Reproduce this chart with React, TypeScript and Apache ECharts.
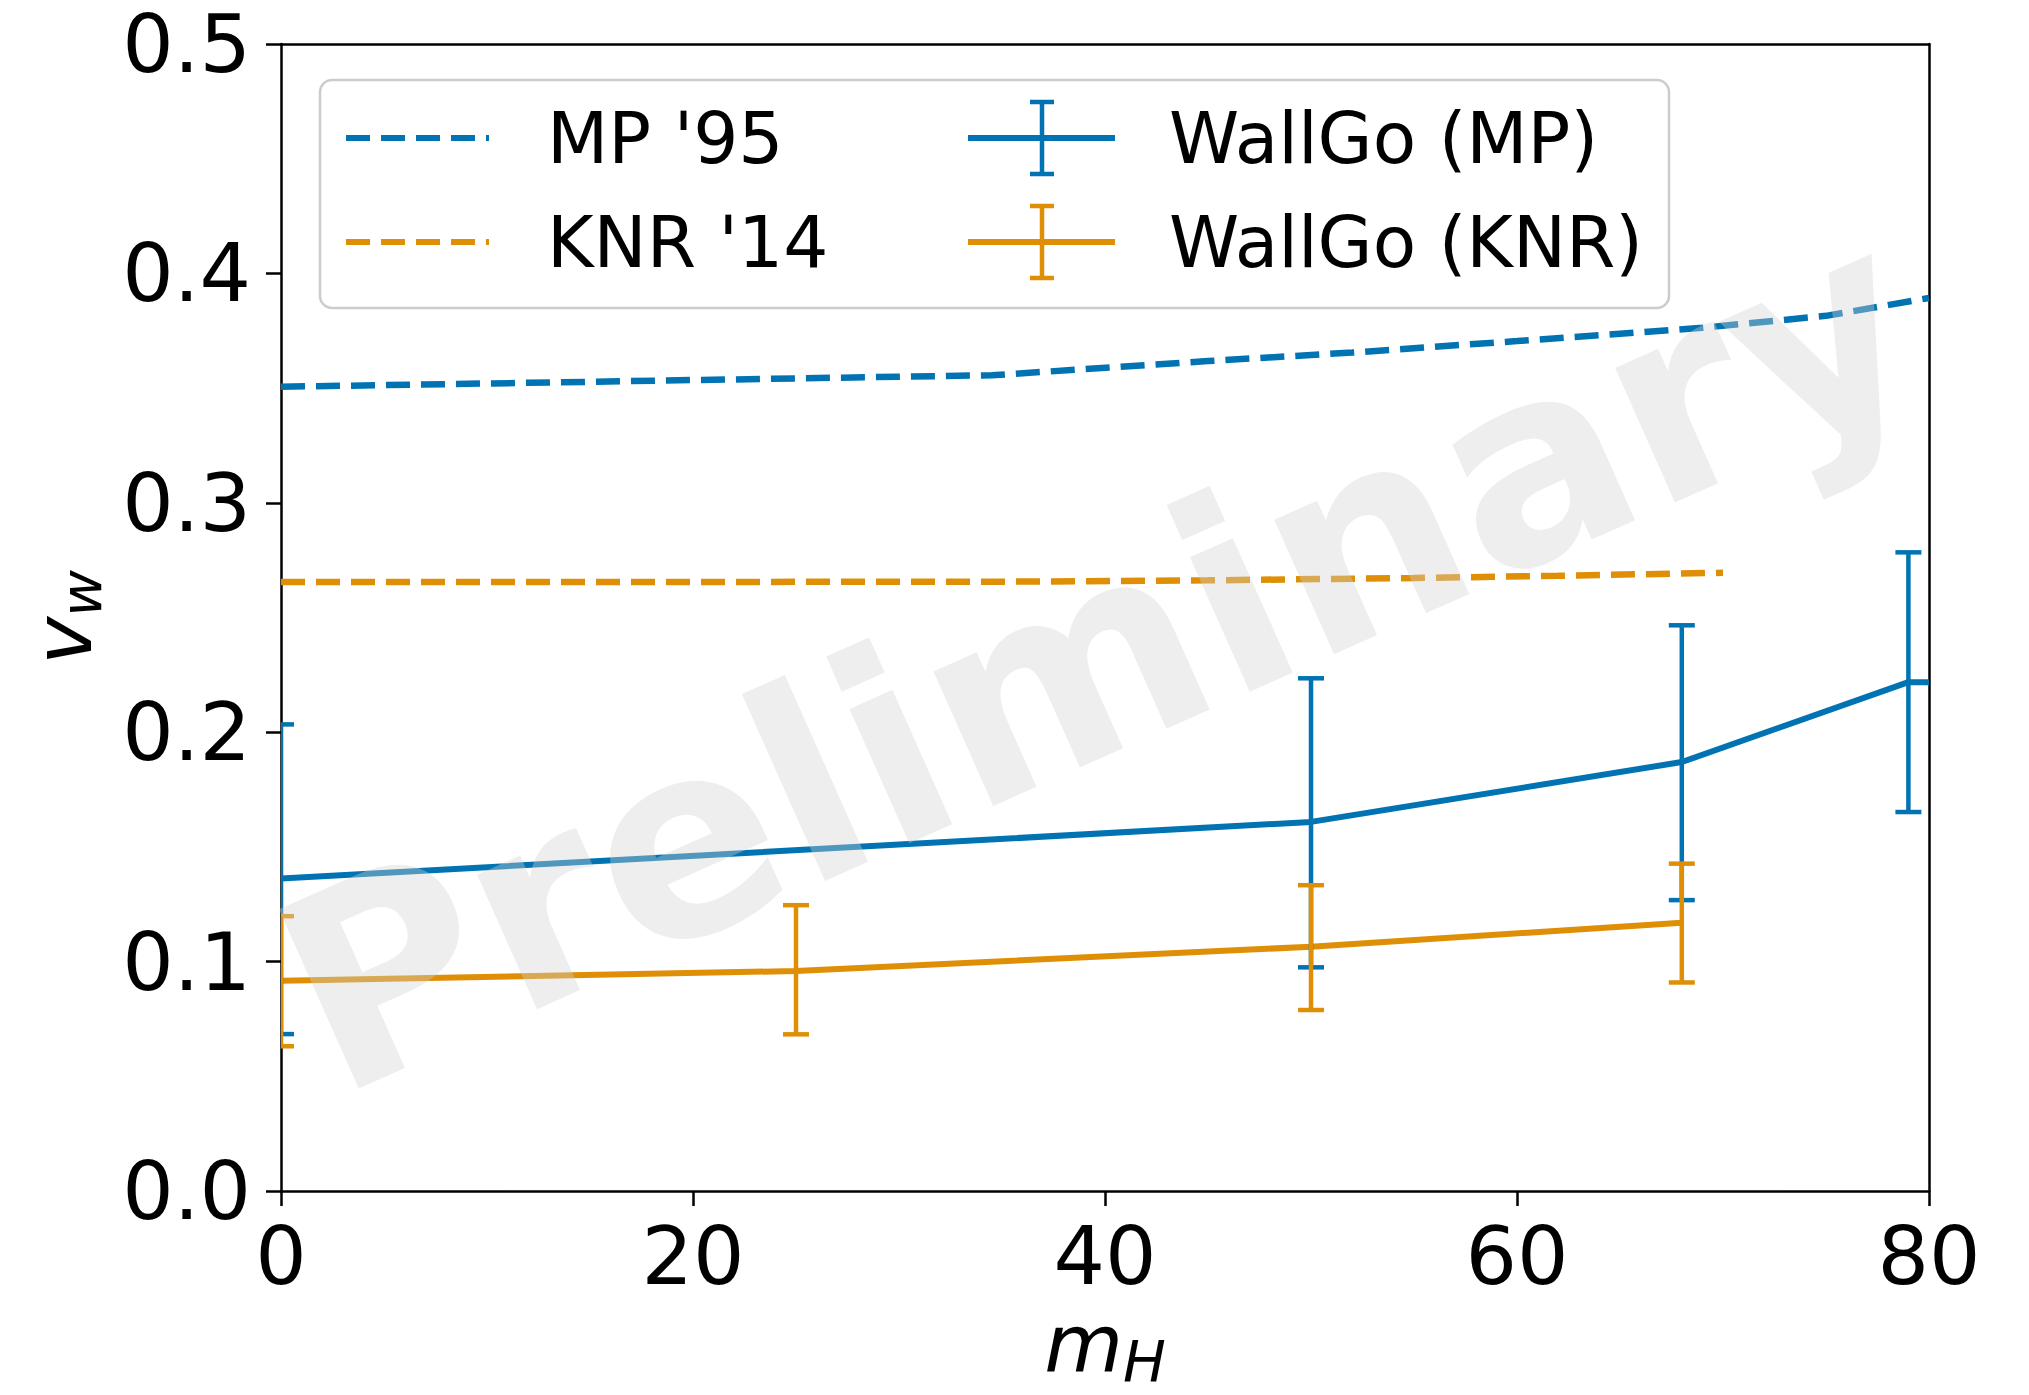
import React, { useEffect, useRef } from "react";
import * as echarts from "echarts";

const BLUE = "#0173b2";
const ORANGE = "#de8f05";
const FONT = "DejaVu Sans";

// MP '95 (dashed)
const mp95X = [0, 10, 20, 34.5, 45, 52, 60, 69, 75, 80];
const mp95Y = [0.3506, 0.352, 0.3535, 0.3556, 0.3618, 0.3655, 0.3705, 0.3763, 0.3815, 0.3893];
// KNR '14 (dashed)
const knr14X = [0, 20, 35, 45, 55, 62, 70];
const knr14Y = [0.2655, 0.2655, 0.2656, 0.2662, 0.2672, 0.2682, 0.2695];

// WallGo (MP)
const wallgoMpX = [0, 50, 68, 79, 80];
const wallgoMpY = [0.1362, 0.1609, 0.187, 0.2218, 0.2218];
const wallgoMpErrX = [0, 50, 68, 79];
const wallgoMpErrY = [0.1362, 0.1609, 0.187, 0.2218];
const wallgoMpLo = [0.0684, 0.0975, 0.1268, 0.1652];
const wallgoMpHi = [0.2034, 0.2235, 0.2466, 0.2784];

// WallGo (KNR)
const wallgoKnrX = [0, 25, 50, 68];
const wallgoKnrY = [0.0916, 0.0959, 0.1065, 0.1169];
const wallgoKnrLo = [0.0631, 0.0683, 0.0789, 0.0909];
const wallgoKnrHi = [0.1198, 0.1246, 0.1333, 0.1427];

const xTicks = { min: 0, max: 80, interval: 20 };
const yTicks = { min: 0, max: 0.5, interval: 0.1 };

const legendNames = ["MP '95", "KNR '14", "WallGo (MP)", "WallGo (KNR)"];
const watermarkText = "Preliminary";

function zip(xs: number[], ys: number[]) {
  return xs.map((x, i) => [x, ys[i]]);
}

function errorSeries(name: string, color: string, xs: number[], ys: number[], lo: number[], hi: number[]) {
  return {
    name: name + " err",
    type: "custom",
    clip: true,
    z: 4,
    data: xs.map((x, i) => [x, ys[i], lo[i], hi[i]]),
    renderItem: (params: any, api: any) => {
      const x = api.value(0);
      const pLo = api.coord([x, api.value(2)]);
      const pHi = api.coord([x, api.value(3)]);
      const cap = 13;
      const style = { stroke: color, lineWidth: 4.5, fill: "none" };
      return {
        type: "group",
        children: [
          { type: "line", shape: { x1: pLo[0], y1: pLo[1], x2: pHi[0], y2: pHi[1] }, style },
          { type: "line", shape: { x1: pLo[0] - cap, y1: pLo[1], x2: pLo[0] + cap, y2: pLo[1] }, style },
          { type: "line", shape: { x1: pHi[0] - cap, y1: pHi[1], x2: pHi[0] + cap, y2: pHi[1] }, style },
        ],
      };
    },
  };
}

function legendGraphic() {
  const textStyle = (t: string, x: number, y: number) => ({
    type: "text",
    x,
    y,
    style: { text: t, font: `71px "${FONT}"`, fill: "#000", align: "left", verticalAlign: "middle" },
  });
  const dashed = (color: string, y: number) => ({
    type: "line",
    shape: { x1: 346, y1: y, x2: 489, y2: y },
    style: { stroke: color, lineWidth: 6, lineDash: [24, 11] },
  });
  const errHandle = (color: string, y: number) => {
    const cx = 1042;
    const st = { stroke: color, lineWidth: 4.5 };
    return [
      { type: "line", shape: { x1: 968, y1: y, x2: 1115, y2: y }, style: { stroke: color, lineWidth: 6 } },
      { type: "line", shape: { x1: cx, y1: y - 36, x2: cx, y2: y + 36 }, style: st },
      { type: "line", shape: { x1: cx - 12, y1: y - 36, x2: cx + 12, y2: y - 36 }, style: st },
      { type: "line", shape: { x1: cx - 12, y1: y + 36, x2: cx + 12, y2: y + 36 }, style: st },
    ];
  };
  const r1 = 138;
  const r2 = 242;
  return {
    type: "group",
    z: 50,
    children: [
      {
        type: "rect",
        shape: { x: 320, y: 80, width: 1349, height: 228, r: 12 },
        style: { fill: "rgba(255,255,255,0.8)", stroke: "#cccccc", lineWidth: 2.5 },
      },
      dashed(BLUE, r1),
      dashed(ORANGE, r2),
      textStyle(legendNames[0], 547, r1),
      textStyle(legendNames[1], 547, r2),
      ...errHandle(BLUE, r1),
      ...errHandle(ORANGE, r2),
      textStyle(legendNames[2], 1169, r1),
      textStyle(legendNames[3], 1169, r2),
    ],
  };
}

export default function App() {
  const ref = useRef<HTMLDivElement>(null);
  useEffect(() => {
    document.body.style.margin = "0";
    const chart = echarts.init(ref.current!, null, { renderer: "svg" });
    const axisCommon = {
      axisLine: { show: true, onZero: false, lineStyle: { color: "#000", width: 2.5 } },
      axisTick: { show: true, inside: false, length: 15, lineStyle: { color: "#000", width: 2.5 } },
      splitLine: { show: false },
    };
    const frameAxis = {
      show: true,
      axisLine: { show: true, onZero: false, lineStyle: { color: "#000", width: 2.5 } },
      axisTick: { show: false },
      axisLabel: { show: false },
      splitLine: { show: false },
    };
    const nameRich = {
      a: { fontSize: 81, fontStyle: "italic", fontFamily: FONT, color: "#000", verticalAlign: "bottom", padding: [0, 0, 6, 0] },
      s: { fontSize: 57, fontStyle: "italic", fontFamily: FONT, color: "#000", verticalAlign: "bottom" },
    };
    chart.setOption({
      animation: false,
      backgroundColor: "#ffffff",
      grid: { left: 281, right: 100, top: 44, bottom: 202, containLabel: false },
      xAxis: [
        {
          type: "value",
          ...xTicks,
          ...axisCommon,
          axisLabel: { fontSize: 81, fontFamily: FONT, color: "#000", margin: 24 },
          name: "{a|m}{s|H}",
          nameLocation: "middle",
          nameGap: 112,
          nameTextStyle: { rich: nameRich },
        },
        { type: "value", position: "top", ...xTicks, ...frameAxis },
      ],
      yAxis: [
        {
          type: "value",
          ...yTicks,
          ...axisCommon,
          axisLabel: {
            fontSize: 81,
            lineHeight: 78,
            fontFamily: FONT,
            color: "#000",
            margin: 30,
            formatter: (v: number) => v.toFixed(1),
          },
          name: "{a|v}{s|w}",
          nameLocation: "middle",
          nameRotate: 90,
          nameGap: 172,
          nameTextStyle: { rich: nameRich },
        },
        { type: "value", position: "right", ...yTicks, ...frameAxis },
      ],
      graphic: [
        legendGraphic(),
        {
          type: "text",
          z: 100,
          x: 1098,
          y: 657,
          rotation: (24 * Math.PI) / 180,
          silent: true,
          style: {
            text: watermarkText,
            font: `bold 269px "${FONT}"`,
            fill: "rgba(211,211,211,0.38)",
            align: "center",
            verticalAlign: "middle",
          },
        },
      ],
      series: [
        {
          name: legendNames[0],
          type: "line",
          data: zip(mp95X, mp95Y),
          showSymbol: false,
          lineStyle: { color: BLUE, width: 6.5, type: [24, 11] },
          z: 2,
        },
        {
          name: legendNames[1],
          type: "line",
          data: zip(knr14X, knr14Y),
          showSymbol: false,
          lineStyle: { color: ORANGE, width: 6.5, type: [24, 11] },
          z: 2,
        },
        {
          name: legendNames[2],
          type: "line",
          data: zip(wallgoMpX, wallgoMpY),
          showSymbol: false,
          lineStyle: { color: BLUE, width: 6 },
          z: 3,
        },
        errorSeries(legendNames[2], BLUE, wallgoMpErrX, wallgoMpErrY, wallgoMpLo, wallgoMpHi),
        {
          name: legendNames[3],
          type: "line",
          data: zip(wallgoKnrX, wallgoKnrY),
          showSymbol: false,
          lineStyle: { color: ORANGE, width: 6 },
          z: 3,
        },
        errorSeries(legendNames[3], ORANGE, wallgoKnrX, wallgoKnrY, wallgoKnrLo, wallgoKnrHi),
      ],
    });
    return () => chart.dispose();
  }, []);
  return <div ref={ref} style={{ position: "absolute", left: 0, top: 0, width: 2029, height: 1395 }} />;
}
